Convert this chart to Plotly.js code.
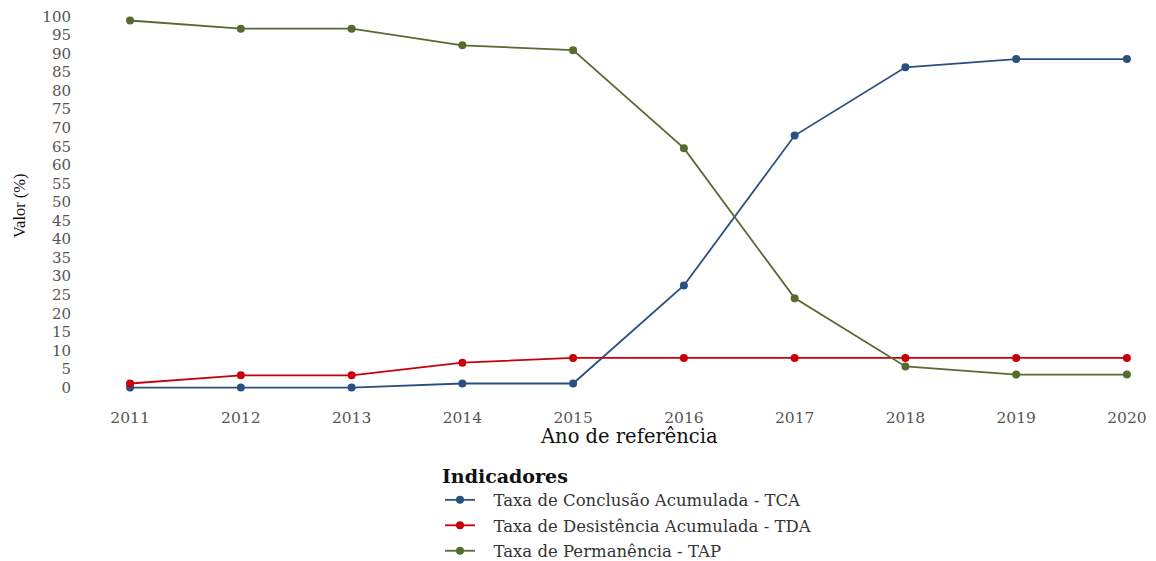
<!DOCTYPE html>
<html>
<head>
<meta charset="utf-8">
<script src="https://cdn.plot.ly/plotly-3.0.1.min.js"></script>
<style>html,body{margin:0;padding:0;background:#fff;overflow:hidden;}#chart{width:1156px;height:580px;}</style>
</head>
<body>
<div id="chart"></div>
<script>
const years = [2011, 2012, 2013, 2014, 2015, 2016, 2017, 2018, 2019, 2020];
const tca = [0, 0, 0, 1.1, 1.1, 27.5, 67.9, 86.3, 88.5, 88.5];
const tda = [1.1, 3.3, 3.3, 6.7, 8.0, 8.0, 8.0, 8.0, 8.0, 8.0];
const tap = [98.9, 96.7, 96.7, 92.2, 90.9, 64.5, 24.1, 5.7, 3.5, 3.5];
const names = ["Taxa de Conclusão Acumulada - TCA", "Taxa de Desistência Acumulada - TDA", "Taxa de Permanência - TAP"];
const colors = ["#2A5082", "#C8000A", "#556B2F"];
const yTicks = [0,5,10,15,20,25,30,35,40,45,50,55,60,65,70,75,80,85,90,95,100];

const series = [tca, tda, tap];
const data = series.map((s, i) => ({
  x: years, y: s, type: 'scatter', mode: 'lines+markers',
  name: '\u2002\u00a0' + names[i], legendgroup: 'g' + i,
  line: {color: colors[i], width: 1.8},
  marker: {color: colors[i], size: 8}
}));

const serif = 'DejaVu Serif, serif';
const layout = {
  width: 1156, height: 580,
  margin: {l: 119, r: 18, t: 9, b: 185},
  paper_bgcolor: '#fff', plot_bgcolor: '#fff',
  showlegend: true,
  xaxis: {
    range: [2010.9, 2020.1], tickvals: years, ticktext: years.map(String),
    showgrid: false, zeroline: false, showline: false,
    ticks: 'outside', ticklen: 8, tickcolor: 'rgba(0,0,0,0)',
    tickfont: {family: serif, size: 15.5, color: '#555'}
  },
  yaxis: {
    range: [-2, 102], tickvals: yTicks, ticktext: yTicks.map(String),
    showgrid: false, zeroline: false, showline: false,
    ticks: 'outside', ticklen: 44, tickcolor: 'rgba(0,0,0,0)',
    tickfont: {family: serif, size: 15, color: '#555'}
  },
  legend: {
    x: 0.315, y: -0.163, xanchor: 'left', yanchor: 'top',
    orientation: 'v', traceorder: 'grouped', tracegroupgap: 1,
    title: {text: '<b>Indicadores</b>', font: {family: serif, size: 19, color: '#111'}},
    font: {family: serif, size: 16.5, color: '#333'},
    bgcolor: 'rgba(0,0,0,0)'
  },
  annotations: [
    {text: 'Ano de referência', xref: 'paper', yref: 'paper', x: 0.5, y: -0.107,
     xanchor: 'center', yanchor: 'middle', showarrow: false,
     font: {family: serif, size: 19.5, color: '#111'}},
    {text: 'Valor (%)', xref: 'paper', yref: 'paper', x: -0.097, y: 0.49,
     xanchor: 'center', yanchor: 'middle', showarrow: false, textangle: -90,
     font: {family: 'Liberation Serif, serif', size: 16.5, color: '#111'}}
  ]
};

Plotly.newPlot('chart', data, layout, {displayModeBar: false, responsive: false});
</script>
</body>
</html>
